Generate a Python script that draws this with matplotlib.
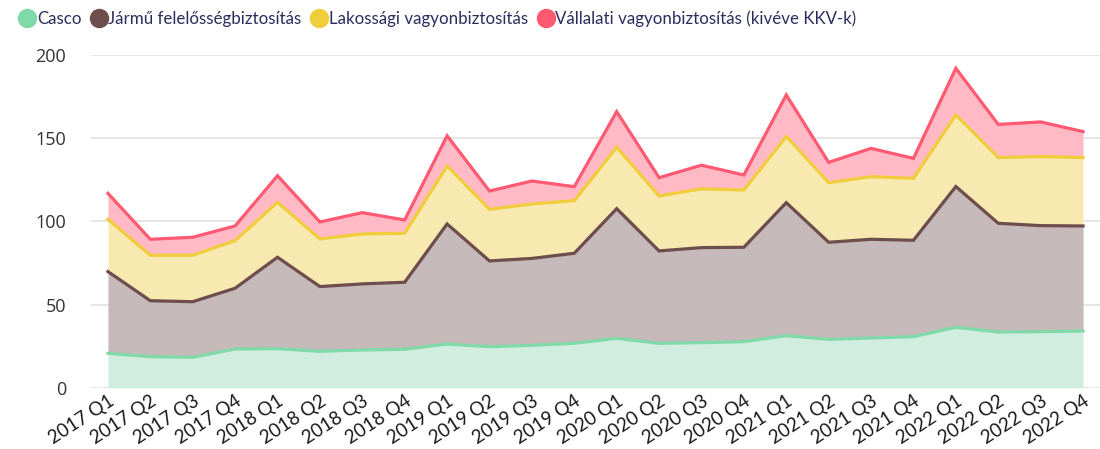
import numpy as np
import matplotlib
matplotlib.use('Agg')
import matplotlib.pyplot as plt
from matplotlib.lines import Line2D

quarters = [f'{y} Q{q}' for y in range(2017, 2023) for q in range(1, 5)]

casco = [20.8, 18.8, 18.4, 23.4, 23.6, 22.0, 22.8, 23.2, 26.4, 24.8, 25.6, 26.8,
         29.8, 26.8, 27.2, 27.8, 31.4, 29.2, 30.0, 30.8, 36.4, 33.6, 33.8, 34.2]
jarmu = [49.1, 33.6, 33.4, 36.5, 54.9, 38.9, 39.7, 40.3, 72.1, 51.5, 52.2, 54.1,
         77.9, 55.5, 57.1, 56.7, 79.9, 58.3, 59.3, 57.9, 84.6, 65.3, 63.7, 63.1]
lakossagi = [31.4, 27.3, 27.9, 28.6, 33.0, 28.6, 30.0, 29.4, 34.8, 31.0, 32.7, 31.6,
             36.9, 33.0, 35.3, 34.4, 39.8, 35.8, 37.6, 37.2, 43.0, 39.5, 41.5, 41.1]
vallalati = [15.6, 9.6, 10.8, 8.8, 16.0, 10.2, 12.8, 8.0, 18.2, 11.0, 13.8, 8.4,
             21.4, 11.0, 14.2, 9.0, 24.9, 12.2, 17.0, 12.0, 28.0, 19.9, 20.8, 15.6]

names = ['Casco', 'Jármű felelősségbiztosítás', 'Lakossági vagyonbiztosítás',
         'Vállalati vagyonbiztosítás (kivéve KKV-k)']
line_colors = ['#7fd9a9', '#6e4d4d', '#f0cd3b', '#ff5a72']
fill_colors = ['#d1eddf', '#c6b9b9', '#f8e9b1', '#ffbac5']

fig = plt.figure(figsize=(11, 4.49), dpi=100)
ax = fig.add_axes([0.0827, 0.136, 0.9173, 0.7415])

x = np.arange(len(quarters))
series = np.array([casco, jarmu, lakossagi, vallalati])
tops = np.cumsum(series, axis=0)
bottom = np.zeros(len(quarters))
for i in range(len(series)):
  ax.fill_between(x, bottom, tops[i], color=fill_colors[i], lw=0, zorder=2)
  bottom = tops[i]
for i in range(len(series)):
  ax.plot(x, tops[i], color=line_colors[i], lw=2.3, zorder=3,
          solid_joinstyle='miter')

ax.set_xlim(-0.4, len(quarters) - 1 + 0.4)
ax.set_ylim(0, 200)
ax.set_yticks([0, 50, 100, 150, 200])
ax.grid(axis='y', color='#e4e4e4', lw=1.3, zorder=0)
ax.set_axisbelow(True)
for s in ax.spines.values():
  s.set_visible(False)
ax.tick_params(axis='y', length=0, pad=18, labelsize=13, labelcolor='#333333')
for t in ax.get_yticklabels():
  t.set_fontfamily('Open Sans')
ax.set_xticks(x)
ax.set_xticklabels(quarters, rotation=33, ha='right', rotation_mode='anchor',
                   fontsize=13.5, family='Lato', color='#1a1a1a')
ax.tick_params(axis='x', length=0, pad=3)

handles = [Line2D([], [], marker='o', ls='none', markersize=13,
                  markerfacecolor=c, markeredgecolor=c) for c in line_colors]
fig.legend(handles, names, loc='upper left', bbox_to_anchor=(0.008, 1.0),
           ncol=4, frameon=False, handletextpad=0.05, columnspacing=0.55,
           handlelength=1.0, borderaxespad=0.2,
           prop={'family': 'Lato', 'size': 12.2}, labelcolor='#2b2d5c')

fig.savefig('out.png', dpi=100)
